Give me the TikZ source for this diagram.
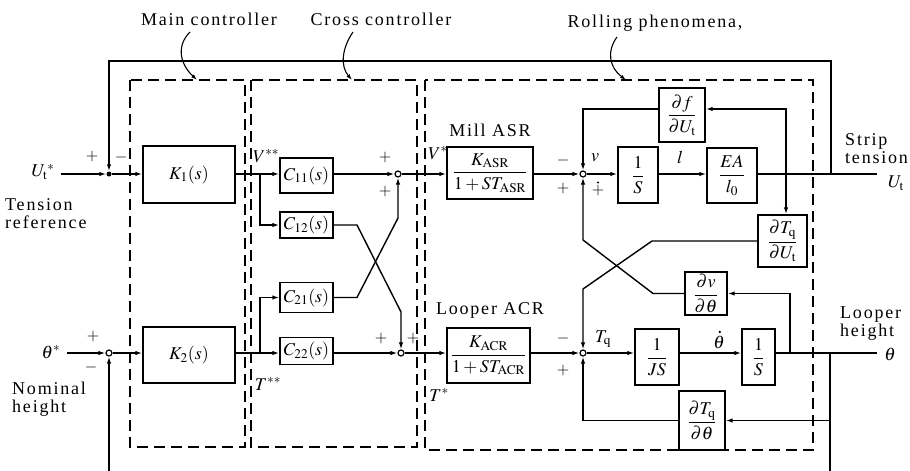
\documentclass[tikz,border=0pt]{standalone}
\usepackage{mathptmx}
\usepackage{fontspec}
\setmainfont{Liberation Serif}
\usetikzlibrary{arrows.meta}
\begin{document}
\begin{tikzpicture}[x=1pt,y=-1pt,
  font=\fontsize{18}{18}\selectfont,
  blk/.style={draw,line width=1.4pt,inner sep=0pt},
  sig/.style={line width=1.4pt},
  arr/.style={sig,-{Latex[length=7pt,width=4.5pt]}},
  dbox/.style={line width=1.4pt,dash pattern=on 11pt off 6pt},
  sj/.style={circle,draw,line width=1.2pt,fill=white,inner sep=0pt,minimum size=6pt},
  dotj/.style={circle,fill,inner sep=0pt,minimum size=5pt},
  lbl/.style={font=\fontsize{18}{18}\selectfont\addfontfeatures{LetterSpace=10},inner sep=0pt},
  pm/.style={font=\fontsize{16}{16}\selectfont,inner sep=0pt},
  lead/.style={line width=1.1pt,-{Latex[length=6pt,width=4pt]}},
]
\useasboundingbox (0,0) rectangle (910,471);
\coordinate (r1) at (0,174);
\coordinate (r2) at (0,353);

% top labels and leaders
\node[lbl] (tMC) at (209,19) {Main controller};
\node[lbl] (tCC) at (381,19) {Cross controller};
\node[lbl] (tRP) at (655,23) {Rolling phenomena,};
\draw[lead] (190,32) .. controls (176,46) and (180,64) .. (197,80);
\draw[lead] (353,32) .. controls (342,48) and (340,66) .. (352,80);
\draw[lead] (617,37) .. controls (606,52) and (610,68) .. (626,80);

% dashed groups
\draw[dbox] (130,80) rectangle (245,447);
\draw[dbox] (251,80) rectangle (417,447);
\draw[dbox] (425,80) rectangle (813,450);

% main controller
\node[blk,minimum width=92pt,minimum height=57pt] (K1) at (189,174.5) {$K_1(s)$};
\node[blk,minimum width=92pt,minimum height=56pt] (K2) at (189,355) {$K_2(s)$};

% cross controller
\node[blk,minimum width=53pt,minimum height=35pt] (C11) at (306.5,175.5) {$C_{11}(s)$};
\node[blk,minimum width=53pt,minimum height=26pt] (C12) at (306.5,225) {$C_{12}(s)$};
\node[blk,minimum width=53pt,minimum height=30pt] (C21) at (306.5,297.5) {$C_{21}(s)$};
\node[blk,minimum width=53pt,minimum height=27pt] (C22) at (306.5,351) {$C_{22}(s)$};
\node[sj] (S1) at (398,174) {};
\node[sj] (S2) at (401,353) {};
\coordinate (Vss) at (260,174);
\coordinate (Tss) at (260,353);

% rolling phenomena
\node[blk,minimum width=86pt,minimum height=52pt] (KASR) at (490,173) {$\displaystyle\frac{K_{\mathrm{ASR}}}{1+ST_{\mathrm{ASR}}}$};
\node[blk,minimum width=83pt,minimum height=55pt] (KACR) at (488.5,355.5) {$\displaystyle\frac{K_{\mathrm{ACR}}}{1+ST_{\mathrm{ACR}}}$};
\node[sj] (Jv) at (583,174) {};
\node[sj] (Jq) at (583,353) {};
\node[blk,minimum width=40pt,minimum height=56pt] (I1) at (638,175) {$\displaystyle\frac{1}{S}$};
\node[blk,minimum width=50pt,minimum height=55pt] (EA) at (732,175.5) {$\displaystyle\frac{EA}{l_0}$};
\node[blk,minimum width=46pt,minimum height=54pt] (DF) at (682,115) {$\displaystyle\frac{\partial f}{\partial U_{\mathrm{t}}}$};
\node[blk,minimum width=49pt,minimum height=52pt] (DTU) at (782.5,241) {$\displaystyle\frac{\partial T_{\mathrm{q}}}{\partial U_{\mathrm{t}}}$};
\node[blk,minimum width=42pt,minimum height=43pt] (DVT) at (706,293.5) {$\displaystyle\frac{\partial v}{\partial\theta}$};
\node[blk,minimum width=44pt,minimum height=56pt] (JS) at (657,357) {$\displaystyle\frac{1}{JS}$};
\node[blk,minimum width=33pt,minimum height=56pt] (I2) at (758.5,357) {$\displaystyle\frac{1}{S}$};
\node[blk,minimum width=46pt,minimum height=59pt] (DTT) at (702,420.5) {$\displaystyle\frac{\partial T_{\mathrm{q}}}{\partial\theta}$};

% inputs / outputs
\node[inner sep=0pt] (Utin) at (43,172) {$U_{\mathrm{t}}{}^{*}$};
\node[inner sep=0pt] (thin) at (51,352) {$\theta^{*}$};
\node[dotj] (J0) at (109,174) {};
\node[sj] (Jth) at (109,353) {};
\coordinate (UtEnd) at (877,174);
\coordinate (thEnd) at (877,353);
\node[inner sep=0pt] (UtLbl) at (896,183) {$U_{\mathrm{t}}$};
\node[inner sep=0pt] (thLbl) at (890,354) {$\theta$};
\coordinate (F1) at (831,174);
\coordinate (B1) at (786,174);
\coordinate (B2) at (790,353);
\coordinate (B3) at (830,353);
\coordinate (BotL) at (109,471);
\coordinate (BotR) at (830,471);

% text labels
\node[lbl,align=left,anchor=west] (tr) at (5,214) {Tension\\reference};
\node[lbl,align=left,anchor=west] (nh) at (12,399) {Nominal\\height};
\node[lbl,align=left,anchor=west] (st) at (845,149) {Strip\\tension};
\node[lbl,align=left,anchor=west] (lh) at (840,324) {Looper\\height};
\node[lbl] (mas) at (490,130) {Mill ASR};
\node[lbl] (lac) at (490,310) {Looper ACR};
\node[inner sep=0pt] (lVss) at (266,156) {$V^{**}$};
\node[inner sep=0pt] (lTss) at (268,384) {$T^{**}$};
\node[inner sep=0pt] (lVs) at (438,153) {$V^{*}$};
\node[inner sep=0pt] (lTs) at (439,395) {$T^{*}$};
\node[inner sep=0pt] (lv) at (595,158) {$v$};
\node[inner sep=0pt] (ll) at (680,157) {$l$};
\node[inner sep=0pt] (lTq) at (603,339) {$T_{\mathrm{q}}$};
\node[inner sep=0pt] (lthd) at (719,342) {$\theta$};
\fill (lthd.north) ++(0.8,-3.5) circle (1.3pt);

% signs
\node[pm] at (92,157) {$+$};
\node[pm] at (121,157) {$-$};
\node[pm] at (93,336) {$+$};
\node[pm] at (91,367) {$-$};
\node[pm] at (385,158) {$+$};
\node[pm] at (385,192) {$+$};
\node[pm] at (381,338) {$+$};
\node[pm] at (413,338) {$+$};
\node[pm] at (563,160) {$-$};
\node[pm] at (563,189) {$+$};
\node[pm] (pdot) at (598,191) {$+$};
\fill (pdot.north) ++(0,-3) circle (1.2pt);
\node[pm] at (563,338) {$-$};
\node[pm] at (563,370) {$+$};

% connectors: left part
\draw[arr] (Utin.east) ++(6,2) -- (J0);
\draw[arr] (J0) -- (K1.west |- r1);
\draw[arr] (thin.east) ++(6,1) -- (Jth);
\draw[arr] (Jth) -- (K2.west |- r2);
\draw[arr] (F1) -- (831,61) -- (109,61) -- (J0);
\draw[arr] (BotL) -- (Jth);

% cross controller
\draw[arr] (K1.east |- r1) -- (C11.west |- r1);
\draw[arr] (Vss) |- (C12.west);
\draw[arr] (K2.east |- r2) -- (C22.west |- r2);
\draw[arr] (Tss) |- (C21.west);
\draw[arr] (C11.east |- r1) -- (S1);
\draw[arr] (C22.east |- r2) -- (S2);
\draw[arr] (C12.east) -- (357,225) -- (401,312) -- (S2);
\draw[arr] (C21.east) -- (357,297.5) -- (398,218) -- (S1);

% rolling phenomena
\draw[arr] (S1) -- (KASR.west |- r1);
\draw[arr] (S2) -- (KACR.west |- r2);
\draw[arr] (KASR.east |- r1) -- (Jv);
\draw[arr] (Jv) -- (I1.west |- r1);
\draw[arr] (I1.east |- r1) -- (EA.west |- r1);
\draw[sig] (EA.east |- r1) -- (UtEnd);
\draw[arr] (B1) -- (786,109) -- (DF.east |- 0,109);
\draw[arr] (DF.west |- 0,109) -- (583,109) -- (Jv);
\draw[arr] (B1) -- (B1 |- DTU.north);
\draw[arr] (DTU.west) -- (652,241) -- (583,289) -- (Jq);
\draw[arr] (DVT.west) -- (653,293.5) -- (583,240) -- (Jv);
\draw[arr] (KACR.east |- r2) -- (Jq);
\draw[arr] (Jq) -- (JS.west |- r2);
\draw[arr] (JS.east |- r2) -- (I2.west |- r2);
\draw[sig] (I2.east |- r2) -- (thEnd);
\draw[arr] (B2) |- (DVT.east);
\draw[arr] (B3) |- (DTT.east);
\draw[arr] (DTT.west) -| (Jq);
\draw[sig] (B3) -- (BotR);
\end{tikzpicture}
\end{document}
